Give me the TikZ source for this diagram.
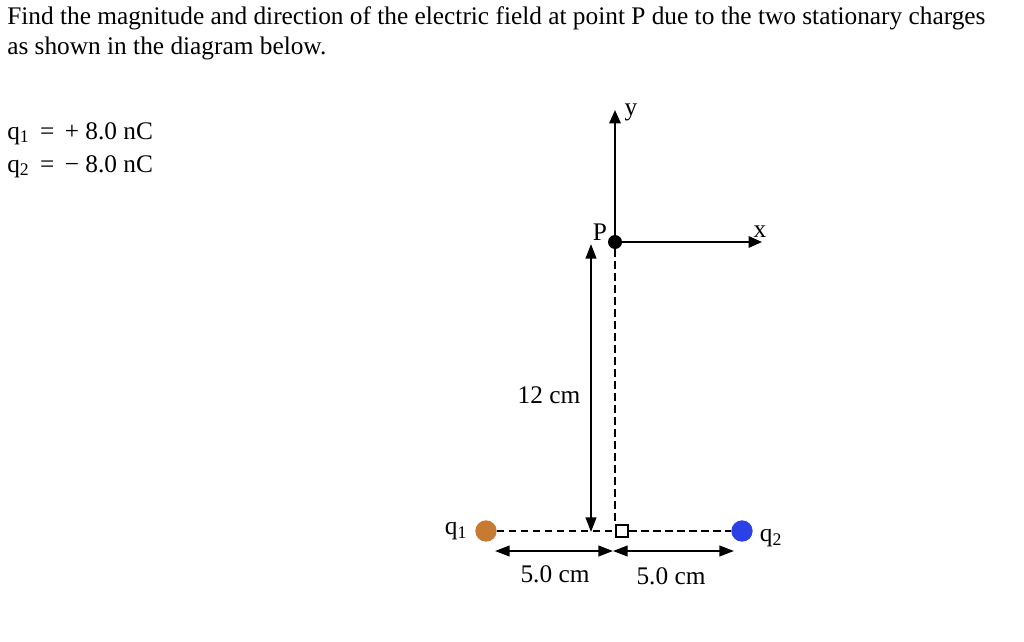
\documentclass[tikz,border=0pt]{standalone}
\usepackage{fontspec}
\setmainfont{Liberation Serif}
\usetikzlibrary{arrows.meta,positioning}
\definecolor{qone}{HTML}{C67A32}
\definecolor{qtwo}{HTML}{2B40E6}

\begin{document}
\begin{tikzpicture}[
  x=0.75pt, y=-0.75pt,
  txt/.style={font=\fontsize{19}{23}\selectfont, inner sep=0pt, anchor=base west},
  lbl/.style={font=\fontsize{19}{22}\selectfont, inner sep=0pt},
  charge/.style={circle, fill=#1, minimum size=16pt, inner sep=0pt},
  dot/.style={circle, fill=black, minimum size=10.5pt, inner sep=0pt},
  axis/.style={-{Triangle[length=10pt,width=8.5pt]}, line width=1.5pt},
  dim/.style={{Triangle[length=11pt,width=8pt]}-{Triangle[length=11pt,width=8pt]}, line width=1.5pt},
  guide/.style={dash pattern=on 5.5pt off 3.5pt, line width=1.3pt}
]
  \useasboundingbox (0,0) rectangle (1024,642);

  % question text
  \node[txt] (line1) at (7,25) {Find the magnitude and direction of the electric field at point P due to the two stationary charges};
  \node[txt] (line2) at (7,55) {as shown in the diagram below.};
  \node[txt] (q1val) at (7,139) {q\textsubscript{1} \,= \,+ 8.0 nC};
  \node[txt] (q2val) at (7,172) {q\textsubscript{2} \,= \,− 8.0 nC};

  % point P and axes
  \node[dot] (P) at (615,242) {};
  \coordinate (ytip) at (615,110);
  \coordinate (xtip) at (762,242);
  \draw[axis] (P.center) -- (ytip);
  \draw[axis] (P.center) -- (xtip);
  \node[lbl] (ylbl) at (631,112) {y};
  \node[lbl] (xlbl) at (760,232) {x};
  \node[lbl] (Plbl) at (600,232) {P};

  % charges and right-angle mark
  \node[charge=qone] (q1) at (486,531) {};
  \node[charge=qtwo] (q2) at (742,531) {};
  \node[draw, line width=1.3pt, minimum size=9.5pt, inner sep=0pt] (foot) at (622,531) {};
  \node[lbl] (q1lbl) at (456,531) {q\textsubscript{1}};
  \node[lbl] (q2lbl) at (771,538) {q\textsubscript{2}};

  \draw[guide] (P.south) -- (P.south |- foot.north);
  \draw[guide] (q1) -- (foot);
  \draw[guide] (foot) -- (q2);

  % distances
  \coordinate (htop) at (591,244);
  \coordinate (hbot) at (591,532);
  \draw[dim] (htop) -- (hbot);
  \node[lbl] (hlbl) at (549,395) {12 cm};

  \coordinate (d1) at (495,551);
  \coordinate (d2) at (613,551);
  \coordinate (d3) at (734,551);
  \draw[dim] (d1) -- (d2);
  \draw[dim] (d2) -- (d3);
  \node[lbl] (d1lbl) at (555,574) {5.0 cm};
  \node[lbl] (d2lbl) at (671,576) {5.0 cm};
\end{tikzpicture}
\end{document}
